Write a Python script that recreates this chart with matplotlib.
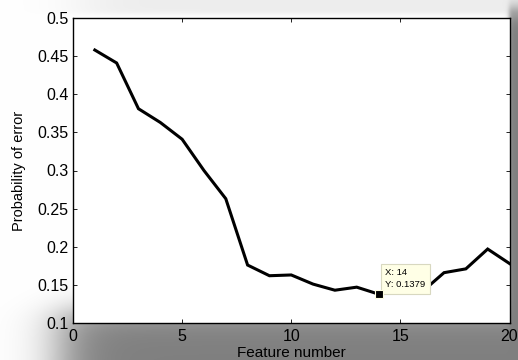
import numpy as np
import matplotlib
matplotlib.use("Agg")
import matplotlib.pyplot as plt

features = [1, 2, 3, 4, 5, 6, 7, 8, 9, 10, 11, 12, 13, 14, 15, 16, 17, 18, 19, 20]
error = [0.458, 0.441, 0.381, 0.363, 0.341, 0.300, 0.263, 0.176, 0.162, 0.163,
         0.151, 0.143, 0.147, 0.1379, 0.141, 0.141, 0.166, 0.171, 0.197, 0.178]
xticks = [0, 5, 10, 15, 20]
yticks = [0.1, 0.15, 0.2, 0.25, 0.3, 0.35, 0.4, 0.45, 0.5]
ytick_labels = ["0.1", "0.15", "0.2", "0.25", "0.3", "0.35", "0.4", "0.45", "0.5"]
tip_x, tip_y = 14, 0.1379

plt.rcParams['font.family'] = ['Liberation Sans', 'DejaVu Sans']

W, H = 518, 360
fig = plt.figure(figsize=(W / 100, H / 100), dpi=100)

# drop-shadow background
xx, yy = np.meshgrid(np.arange(W) + 0.5, np.arange(H) + 0.5)
def soft(v, a, b, s):
    return 0.5 * (np.tanh((v - a) / s) + 1) * 0.5 * (np.tanh((b - v) / s) + 1)
shadow = soft(xx, 60, 700, 30) * soft(yy, 10, 700, 10)
card = soft(xx, -50, 509, 2.5) * soft(yy, -50, 310, 16)
val = 1 - 0.5 * shadow * (1 - card)
top_band = soft(xx, 80, 700, 40) * (1 - soft(yy, 14, 700, 3)) * 0.07
val = val - top_band
bg = fig.add_axes([0, 0, 1, 1], zorder=-10)
bg.imshow(np.dstack([val, val, val]), extent=[0, W, H, 0], aspect='auto',
          interpolation='bilinear', vmin=0, vmax=1)
bg.axis('off')

ax = fig.add_axes([73 / W, 1 - 323 / H, (509.5 - 73) / W, (323 - 18) / H])
ax.set_facecolor('white')
ax.plot(features, error, color='black', lw=2.2, solid_joinstyle='miter', zorder=3)
ax.plot([tip_x], [tip_y], marker='s', ms=6, color='black', mec='#ffffe0', mew=0.8, zorder=6)
ax.text(14.3, 0.1440, f"X: {tip_x}\nY: {tip_y}", fontsize=6.8, va='bottom', ha='left',
        linespacing=1.45, zorder=5,
        bbox=dict(boxstyle='square,pad=0.45', fc='#ffffe6', ec='#d8d8c0', lw=0.8))

ax.set_xlim(0, 20)
ax.set_ylim(0.1, 0.5)
ax.set_xticks(xticks)
ax.set_yticks(yticks)
ax.set_yticklabels(ytick_labels)
ax.tick_params(axis='both', direction='in', top=True, right=True, length=3, width=0.6, labelsize=11.5)
ax.tick_params(axis='x', pad=4)
ax.tick_params(axis='y', pad=3)
for sp in ax.spines.values():
    sp.set_linewidth(1.0)
ax.set_xlabel('Feature number', fontsize=11, labelpad=2)
ax.set_ylabel('Probability of error', fontsize=10.5, labelpad=8)

fig.savefig('out.png', dpi=100)
